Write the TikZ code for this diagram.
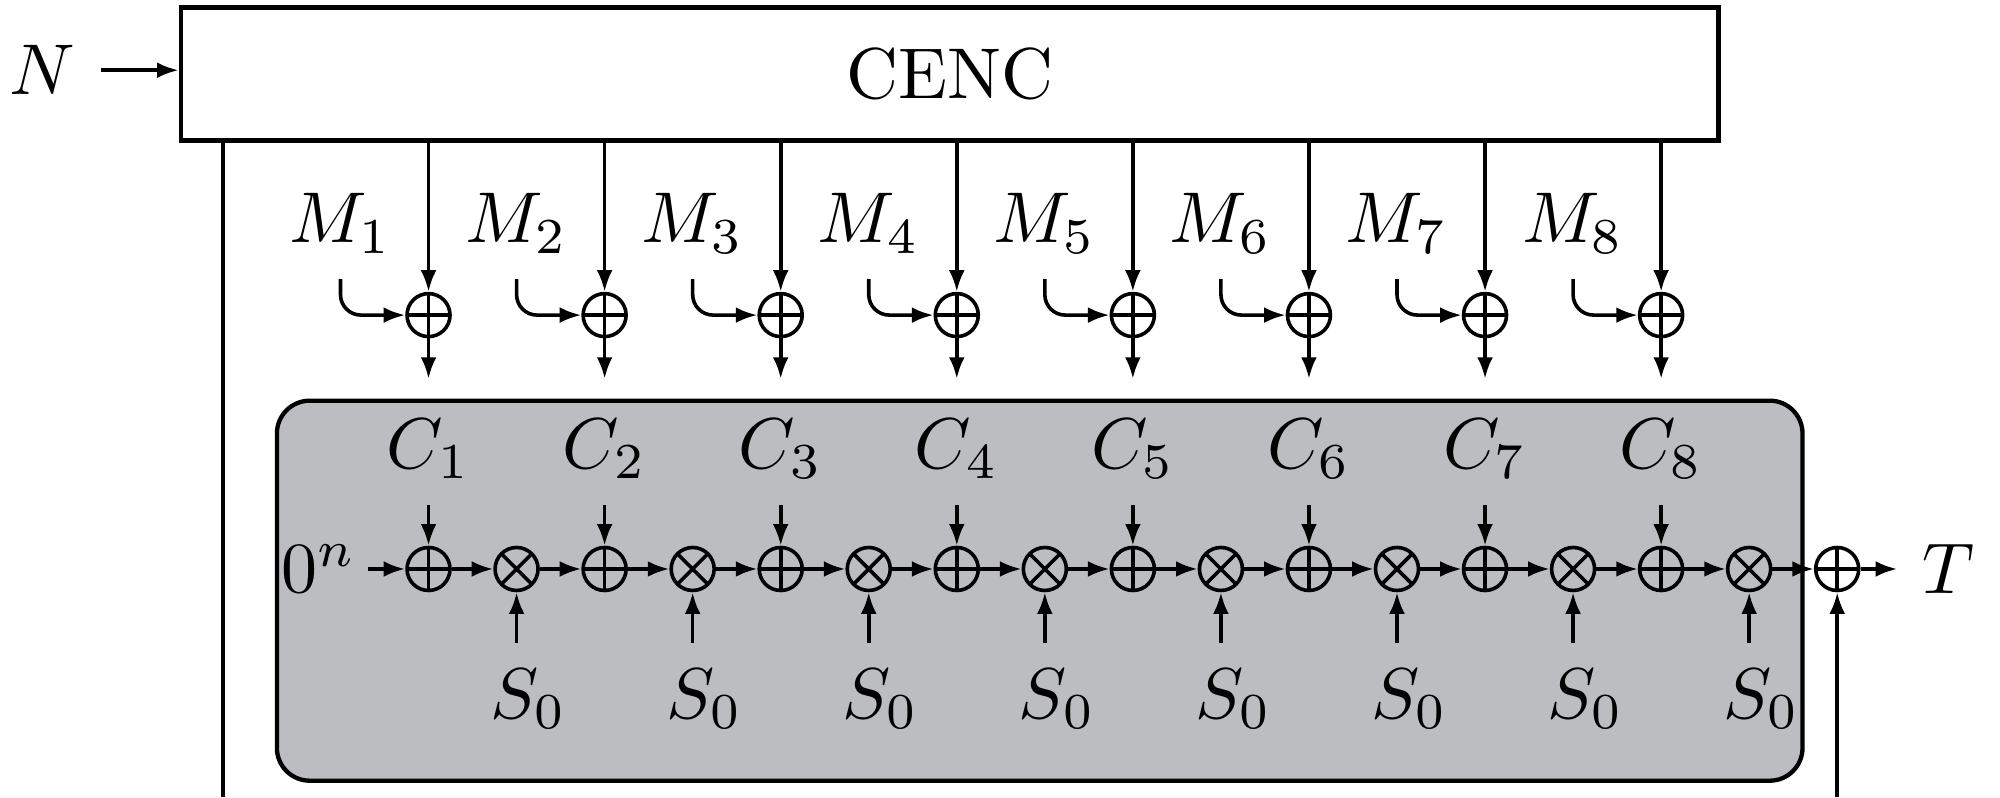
\documentclass[tikz,border=0pt]{standalone}
\usetikzlibrary{arrows.meta}

\definecolor{boxgray}{RGB}{188,189,192}

\tikzset{
    xorop/.style={circle, draw, minimum size=0.21cm, inner sep=0pt,
        path picture={\draw (path picture bounding box.north) -- (path picture bounding box.south)
            (path picture bounding box.west) -- (path picture bounding box.east);}},
    mulop/.style={circle, draw, minimum size=0.21cm, inner sep=0pt,
        path picture={\draw (path picture bounding box.north west) -- (path picture bounding box.south east)
            (path picture bounding box.south west) -- (path picture bounding box.north east);}},
}

\begin{document}
\begin{tikzpicture}[>={Latex[length=3pt,width=2.2pt]}, line width=0.5pt]
                \useasboundingbox (-2.093,-1.115) rectangle (7.675,2.779);
                % big boxes
                \node[draw, semithick, minimum width=7.51cm, minimum height=0.65cm] (cenc) at (2.545,2.417) {CENC};
                \node[draw, semithick, fill=boxgray, rounded corners=0.16cm,
                    minimum width=7.451cm, minimum height=1.856cm] (core) at (2.985,-0.106) {};
                \node[] (N) at (-1.888,2.436) {$N$};
                \draw[->] (N.east) -- (N.east -| cenc.west);
                % one column per block
                \foreach \i in {1,...,8} {
                    \pgfmathsetmacro\xa{(\i-1)*0.86}
                    \pgfmathsetmacro\xb{(\i-1)*0.86+0.43}
                    \node[xorop] (t\i) at (\xa,1.240) {};
                    \node[] (m\i) at (\xa-0.43,1.688) {$M_{\i}$};
                    \node[] (c\i) at (\xa,0.586) {$C_{\i}$};
                    \node[xorop] (x\i) at (\xa,0) {};
                    \node[mulop] (y\i) at (\xb,0) {};
                    \node[] (s\i) at (\xb+0.06,-0.635) {$S_0$};
                    \draw[->] (t\i |- cenc.south) -- (t\i);
                    \draw[->, rounded corners=0.1cm] (m\i.south) |- (t\i);
                    \draw[->, shorten >=2pt] (t\i) -- (c\i.north);
                    \draw[->] (c\i.south) -- (x\i);
                    \draw[->] (x\i) -- (y\i);
                    \draw[->] (s\i.north -| y\i) -- (y\i);
                }
                \foreach \i [evaluate=\i as \j using int(\i+1)] in {1,...,7}
                    \draw[->] (y\i) -- (x\j);
                % chain ends
                \node[] (zero) at (-0.536,0) {$0^n$};
                \draw[->] ([xshift=-2pt]zero.east) -- (x1);
                \node[xorop] (fin) at (6.88,0) {};
                \node[] (T) at (7.426,0) {$T$};
                \draw[->] (y8) -- (fin);
                \draw[->] (fin) -- (T);
                % lines leaving the picture
                \coordinate (lbot) at (-1.003,-1.115);
                \coordinate (rbot) at (6.88,-1.115);
                \draw (lbot |- cenc.south) -- (lbot);
                \draw[->] (rbot) -- (fin);
            \end{tikzpicture}
\end{document}
